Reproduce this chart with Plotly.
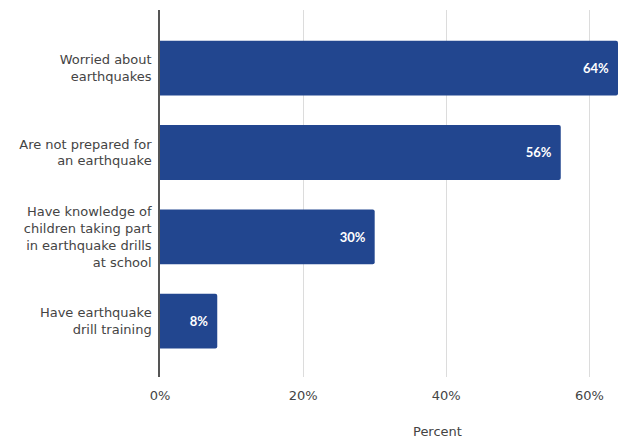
import plotly.graph_objects as go

categories = [
    "Worried about<br>earthquakes",
    "Are not prepared for<br>an earthquake",
    "Have knowledge of<br>children taking part<br>in earthquake drills<br>at school",
    "Have earthquake<br>drill training",
]
values = [64, 56, 30, 8]
x_ticks = [0, 20, 40, 60]
x_ticklabels = ["0%", "20%", "40%", "60%"]

FONT = "DejaVu Sans, Arial, sans-serif"

fig = go.Figure(go.Bar(
    x=values,
    y=categories,
    orientation="h",
    marker=dict(color="#22468f", line=dict(width=0)),
    text=[f"{v}%\u00a0\u00a0" for v in values],
    textposition="inside",
    insidetextanchor="end",
    textfont=dict(color="white", size=13, family="Lato, Arial, sans-serif", weight="bold"),
    cliponaxis=False,
))

fig.update_layout(
    width=618, height=440,
    margin=dict(l=160, r=0, t=10, b=63),
    paper_bgcolor="white", plot_bgcolor="white",
    bargap=0.35,
    barcornerradius=2,
    showlegend=False,
    font=dict(family=FONT, size=13, color="#444"),
    xaxis=dict(
        range=[0, 64.0], tickvals=x_ticks, ticktext=x_ticklabels,
        showgrid=True, gridcolor="#dcdcdc", gridwidth=1,
        zeroline=False, showline=False, ticks="",
        ticklabelstandoff=9,
        tickfont=dict(family=FONT, size=13, color="#444"),
        fixedrange=True,
    ),
    yaxis=dict(
        categoryorder="array", categoryarray=categories,
        range=[3.663, -0.69],
        showgrid=False, zeroline=False,
        showline=True, linecolor="#555", linewidth=1.5,
        ticks="", ticklabelstandoff=4,
        tickfont=dict(family=FONT, size=13, color="#444"),
    ),
    annotations=[dict(
        text="Percent", xref="paper", yref="paper",
        x=0.605, y=-0.148, xanchor="center", yanchor="middle",
        showarrow=False, font=dict(family=FONT, size=13, color="#444"),
    )],
)

fig.write_html("out.html")
